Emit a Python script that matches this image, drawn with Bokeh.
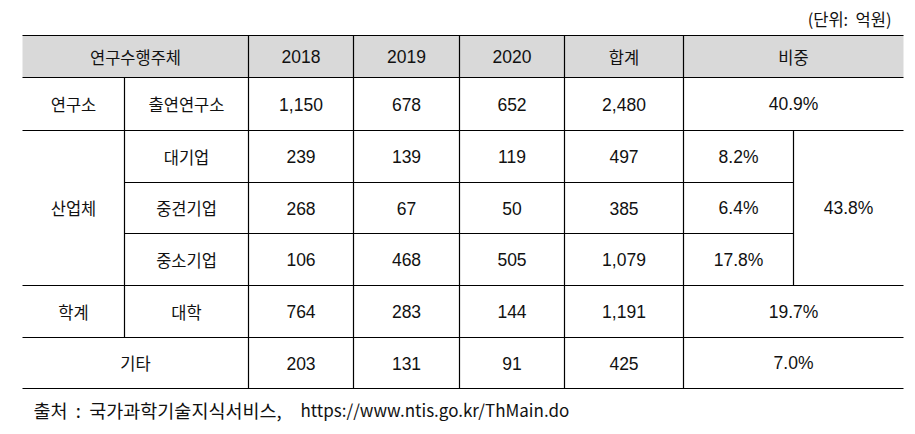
from bokeh.plotting import figure
from bokeh.models import Range1d, ColumnDataSource
from bokeh.core.properties import value
from bokeh.embed import file_html
from bokeh.resources import INLINE

NB = "\u00a0"

# ---------------- data ----------------
header_labels = ["연구수행주체", "2018", "2019", "2020", "합계", "비중"]
group_labels = ["연구소", "산업체", "학계", "기타"]
sub_labels = ["출연연구소", "대기업", "중견기업", "중소기업", "대학"]
v2018 = [1150, 239, 268, 106, 764, 203]
v2019 = [678, 139, 67, 468, 283, 131]
v2020 = [652, 119, 50, 505, 144, 91]
total = [2480, 497, 385, 1079, 1191, 425]
share = ["40.9%", "8.2%", "6.4%", "17.8%", "19.7%", "7.0%"]
industry_share = "43.8%"
unit_text = "(단위:" + NB * 2 + "억원)"
source_prefix = "출처" + NB * 2 + ":" + NB * 2 + "국가과학기술지식서비스,"
source_url = "https://www.ntis.go.kr/ThMain.do"

# ---------------- layout ----------------
FW, FH = 907, 426
cols = [22, 124, 248, 353, 459, 564, 683, 793, 903]
top = 35
rows = [77, 130, 182, 233, 285, 337, 388]

KR = value("Noto Sans CJK KR")
NUM = value("Liberation Sans")
LC = "#000000"
LW = 1.2
TC = "#111111"

p = figure(width=FW, height=FH, output_backend="svg", toolbar_location=None,
           x_range=Range1d(0, FW), y_range=Range1d(FH, 0),
           min_border=0, min_border_left=0, min_border_right=0,
           min_border_top=0, min_border_bottom=0)
p.axis.visible = False
p.grid.visible = False
p.outline_line_color = None
p.background_fill_color = "white"
p.border_fill_color = "white"

# header background
p.quad(left=[cols[0]], right=[cols[-1]], top=[top], bottom=[rows[0]],
       fill_color="#d9d9d9", line_color=None)

# horizontal lines
hx0 = [cols[0], cols[0], cols[0], cols[1], cols[1], cols[0], cols[0], cols[0]]
hx1 = [cols[-1], cols[-1], cols[-1], cols[7], cols[7], cols[-1], cols[-1], cols[-1]]
hy = [top, rows[0], rows[1], rows[2], rows[3], rows[4], rows[5], rows[6]]
p.segment(x0=hx0, y0=hy, x1=hx1, y1=hy, line_color=LC, line_width=LW)

# vertical lines
vx = [cols[1], cols[2], cols[3], cols[4], cols[5], cols[6], cols[7]]
vy0 = [rows[0], top, top, top, top, top, rows[1]]
vy1 = [rows[5], rows[6], rows[6], rows[6], rows[6], rows[6], rows[4]]
p.segment(x0=vx, y0=vy0, x1=vx, y1=vy1, line_color=LC, line_width=LW)

def cx(a, b):
    return (cols[a] + cols[b]) / 2

def cy(a, b):
    return (rows[a] + rows[b]) / 2

KS = "16.5px"
NS = "17.5px"

# header texts
hdr_y = (top + rows[0]) / 2
p.text(x=[cx(0, 2)], y=[hdr_y], text=[header_labels[0]], text_font=KR,
       text_font_size=KS, text_align="center", text_baseline="middle", text_color=TC)
p.text(x=[cx(2, 3), cx(3, 4), cx(4, 5)], y=[hdr_y] * 3, text=header_labels[1:4], text_font=NUM,
       text_font_size=NS, text_align="center", text_baseline="middle", text_color=TC)
p.text(x=[cx(5, 6), cx(6, 8)], y=[hdr_y] * 2, text=header_labels[4:6], text_font=KR,
       text_font_size=KS, text_align="center", text_baseline="middle", text_color=TC)

# group labels
gx = [cx(0, 1), cx(0, 1), cx(0, 1), cx(0, 2)]
gy = [cy(0, 1), cy(1, 4), cy(4, 5), cy(5, 6)]
p.text(x=gx, y=gy, text=group_labels, text_font=KR, text_font_size=KS,
       text_align="center", text_baseline="middle", text_color=TC)

# sub labels
p.text(x=[cx(1, 2)] * 5, y=[cy(i, i + 1) for i in range(5)], text=sub_labels, text_font=KR,
       text_font_size=KS, text_align="center", text_baseline="middle", text_color=TC)

# numbers
fmt = lambda v: f"{v:,}"
nx, ny, nt = [], [], []
for ci, series in zip([2, 3, 4, 5], [v2018, v2019, v2020, total]):
    for ri, v in enumerate(series):
        nx.append(cx(ci, ci + 1))
        ny.append(cy(ri, ri + 1))
        nt.append(fmt(v))
for ri, s in enumerate(share):
    if 1 <= ri <= 3:
        nx.append(cx(6, 7))
    else:
        nx.append(cx(6, 8))
    ny.append(cy(ri, ri + 1))
    nt.append(s)
nx.append(cx(7, 8)); ny.append(cy(1, 4)); nt.append(industry_share)
src = ColumnDataSource(dict(x=nx, y=ny, t=nt))
p.text(x="x", y="y", text="t", source=src, text_font=NUM, text_font_size=NS,
       text_align="center", text_baseline="middle", text_color=TC)

# unit & source
p.text(x=[891], y=[18], text=[unit_text], text_font=KR, text_font_size="16.5px",
       text_align="right", text_baseline="middle", text_color=TC)
p.text(x=[33], y=[409], text=[source_prefix], text_font=KR, text_font_size="18.5px",
       text_align="left", text_baseline="middle", text_color=TC)
p.text(x=[300], y=[409], text=[source_url], text_font=KR, text_font_size="17px",
       text_align="left", text_baseline="middle", text_color=TC)

open("out.html", "w").write(file_html(p, INLINE))
